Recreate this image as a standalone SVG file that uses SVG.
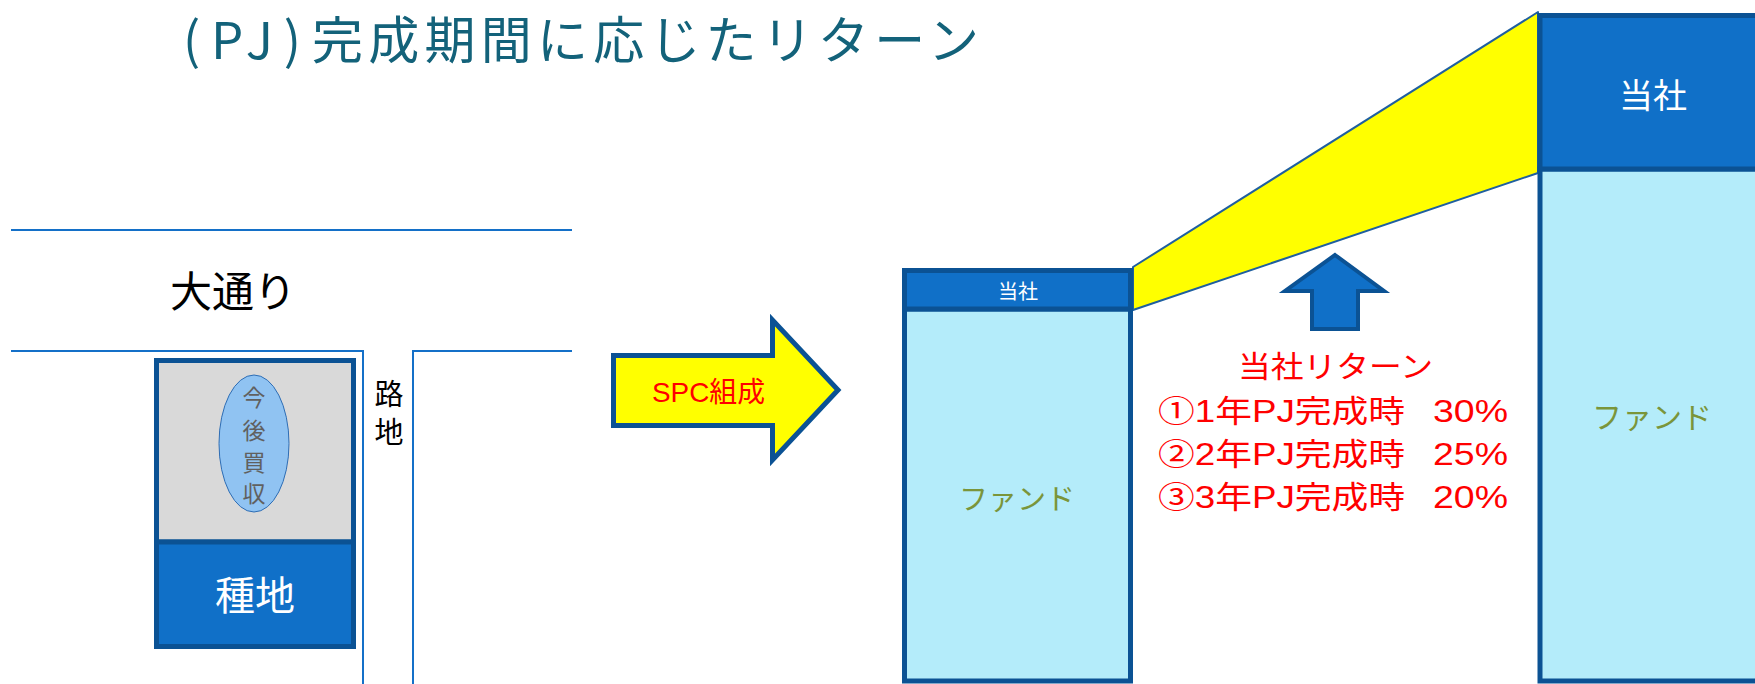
<svg xmlns="http://www.w3.org/2000/svg" width="1755" height="684" viewBox="0 0 1755 684">
<style>
  .jp { font-family: "Noto Sans CJK JP", "Noto Sans", sans-serif; }
  .mix { font-family: "Liberation Sans", "Noto Sans CJK JP", sans-serif; }
  .road { fill: none; stroke: #1470C8; stroke-width: 2; }
  .band { fill: #1070C8; stroke: #0B5294; stroke-width: 5; }
  .fund { fill: #B4ECFA; stroke: #0B5294; stroke-width: 5; }
  .wt { fill: #FFFFFF; text-anchor: middle; }
  .ol { fill: #7A953A; text-anchor: middle; }
  .red { fill: #FF0000; }
</style>
<rect width="1755" height="684" fill="#FFFFFF"/>

<text id="title" class="jp" y="59" font-size="51" fill="#13627A"><tspan x="183" textLength="118" lengthAdjust="spacing">(PJ)</tspan><tspan x="312" textLength="667" lengthAdjust="spacing">完成期間に応じたリターン</tspan></text>

<g id="roads">
  <path class="road" d="M11 230 H572"/>
  <path class="road" d="M11 351 H363 V684"/>
  <path class="road" d="M413 684 V351 H572"/>
  <text class="jp" x="170" y="307" font-size="42" fill="#000000">大通り</text>
  <text class="jp" x="389" y="405" font-size="29" fill="#000000" text-anchor="middle">路</text>
  <text class="jp" x="389" y="443" font-size="29" fill="#000000" text-anchor="middle">地</text>
</g>

<g id="land">
  <rect x="156.5" y="360.5" width="197" height="181.5" fill="#D9D9D9" stroke="#0B5294" stroke-width="5"/>
  <rect class="band" x="156.5" y="542" width="197" height="104.5"/>
  <text class="jp wt" x="255" y="610" font-size="40">種地</text>
</g>

<g id="future">
  <ellipse cx="254" cy="443.5" rx="35" ry="68.5" fill="#90C3F2" stroke="#2E6DB4" stroke-width="1"/>
  <g class="jp" font-size="23" fill="#606060" text-anchor="middle">
    <text x="254" y="406">今</text>
    <text x="254" y="439">後</text>
    <text x="254" y="471">買</text>
    <text x="254" y="502">収</text>
  </g>
</g>

<g id="spc-arrow">
  <path d="M613.5 355.5 H772.5 V320 L838 390 L772.5 460 V425.5 H613.5 Z" fill="#FFFF00" stroke="#0B5294" stroke-width="5" stroke-linejoin="miter"/>
  <text class="mix red" x="652" y="402" font-size="28" textLength="113" lengthAdjust="spacingAndGlyphs">SPC組成</text>
</g>

<g id="connectors">
  <polygon points="1133,267 1538,12 1538,173 1133,310" fill="#FFFF00" stroke="#1F5F9F" stroke-width="2" stroke-linejoin="round"/>
  <path d="M1335 255 L1384 291 H1358 V329 H1312 V291 H1285 Z" fill="#1070C8" stroke="#0B5294" stroke-width="4"/>
</g>

<g id="left-column">
  <rect class="fund" x="904.5" y="309" width="226" height="372"/>
  <rect class="band" x="904.5" y="270.5" width="226" height="38.5"/>
  <text class="jp wt" x="1018" y="299" font-size="20">当社</text>
  <text class="jp ol" x="1017" y="510" font-size="29">ファンド</text>
</g>

<g id="right-column">
  <rect class="fund" x="1540" y="169" width="260" height="512"/>
  <rect class="band" x="1540" y="15.5" width="260" height="153.5"/>
  <text class="jp wt" x="1653" y="108" font-size="34">当社</text>
  <text class="jp ol" x="1652" y="428" font-size="30">ファンド</text>
</g>

<g id="return-label" class="mix red">
  <text x="1238" y="377" font-size="30" textLength="195" lengthAdjust="spacingAndGlyphs">当社リターン</text>
  <text x="1158" y="422" font-size="31" textLength="247" lengthAdjust="spacingAndGlyphs">①1年PJ完成時</text>
  <text x="1433" y="422" font-size="31" textLength="75" lengthAdjust="spacingAndGlyphs">30%</text>
  <text x="1158" y="465" font-size="31" textLength="247" lengthAdjust="spacingAndGlyphs">②2年PJ完成時</text>
  <text x="1433" y="465" font-size="31" textLength="75" lengthAdjust="spacingAndGlyphs">25%</text>
  <text x="1158" y="508" font-size="31" textLength="247" lengthAdjust="spacingAndGlyphs">③3年PJ完成時</text>
  <text x="1433" y="508" font-size="31" textLength="75" lengthAdjust="spacingAndGlyphs">20%</text>
</g>
</svg>
